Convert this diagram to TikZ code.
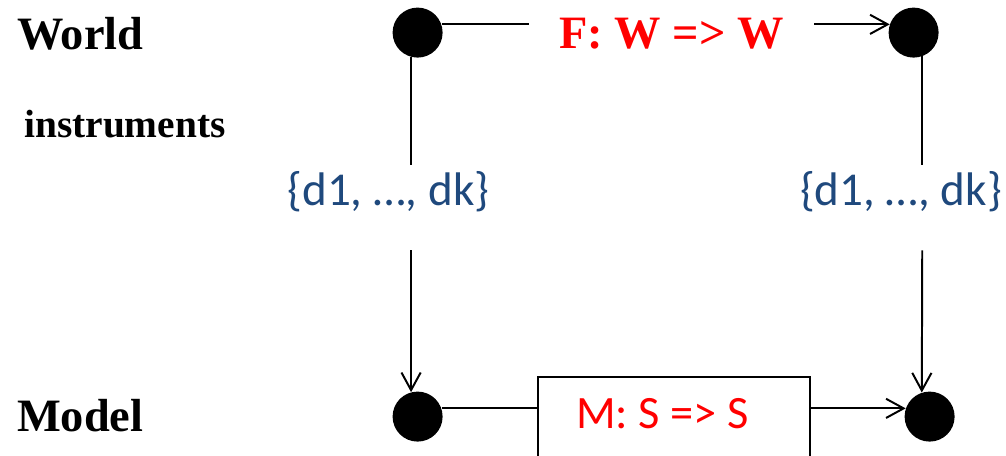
\documentclass[tikz,border=0pt]{standalone}
\usepackage{fontspec}
\setmainfont{Liberation Serif}
\newfontfamily\calibri{Carlito}
\usepackage{xcolor}
\usepackage{tikz}
\usetikzlibrary{arrows.meta, positioning}
\definecolor{labelblue}{RGB}{31,73,125}
\definecolor{mapred}{RGB}{255,0,0}
\frenchspacing

\begin{document}
\begin{tikzpicture}[
    dot/.style={circle, fill=black, inner sep=0pt, minimum size=1.25cm},
    title/.style={anchor=base west, inner sep=0pt, font=\bfseries\fontsize{33}{38}\selectfont},
    setlabel/.style={anchor=base, inner sep=0pt, text height=1.025cm, text depth=1.1cm, text=labelblue, font=\calibri\fontsize{33.5}{40}\selectfont},
    maplabel/.style={anchor=base, inner xsep=0.75cm, inner ysep=0pt, text=mapred, font=\bfseries\fontsize{33}{38}\selectfont},
    mapbox/.style={draw, line width=1.4pt, anchor=base, inner xsep=0.96cm, inner ysep=0.535cm, text width=4.89cm, align=flush left, text height=0.75cm, text depth=0.5cm, text=mapred, font=\calibri\fontsize{33}{38}\selectfont},
    line/.style={line width=1.4pt},
    arrow/.style={line width=1.4pt, -{Straight Barb[length=0.44cm, width=0.48cm]}},
]
\useasboundingbox (0,0) rectangle (25.15,11.375);

% corners of the square
\node[dot] (wl) at (10.44,10.56) {};
\node[dot] (wr) at (22.84,10.56) {};
\node[dot] (ml) at (10.44,0.96) {};
\node[dot] (mr) at (23.24,0.96) {};

% row titles
\node[title] (world) at (0.42,10.14) {World};
\node[title] (model) at (0.42,0.58) {Model};
\node[title, font=\bfseries\fontsize{28}{32}\selectfont] (instr) at (0.6,7.93) {instruments};

% maps and measurements
\node[maplabel] (fww) at (16.79,10.15) {F: W => W};
\node[mapbox] (mss) at (16.85,0.675) {M: S => S};
\node[setlabel] (dl) at (9.71,6.225) {\{d1, …, dk\}};
\node[setlabel] (dr) at (22.525,6.225) {\{d1, …, dk\}};

\draw[line] (wl.19) -- (wl.19 -| fww.west);
\draw[arrow] (fww.east |- wr.161) -- (wr.161);
\draw[line] (wl.255) -- (wl.255 |- dl.north);
\draw[arrow] (wl.255 |- dl.south) -- (ml.105);
\draw[line] (wr.290) -- (wr.290 |- dr.north);
\draw[arrow] (wr.290 |- dr.south) -- (mr.108);
\draw[line] (ml.19) -- (ml.19 -| mss.west);
\draw[arrow] (mss.east |- mr.161) -- (mr.161);
\end{tikzpicture}
\end{document}
